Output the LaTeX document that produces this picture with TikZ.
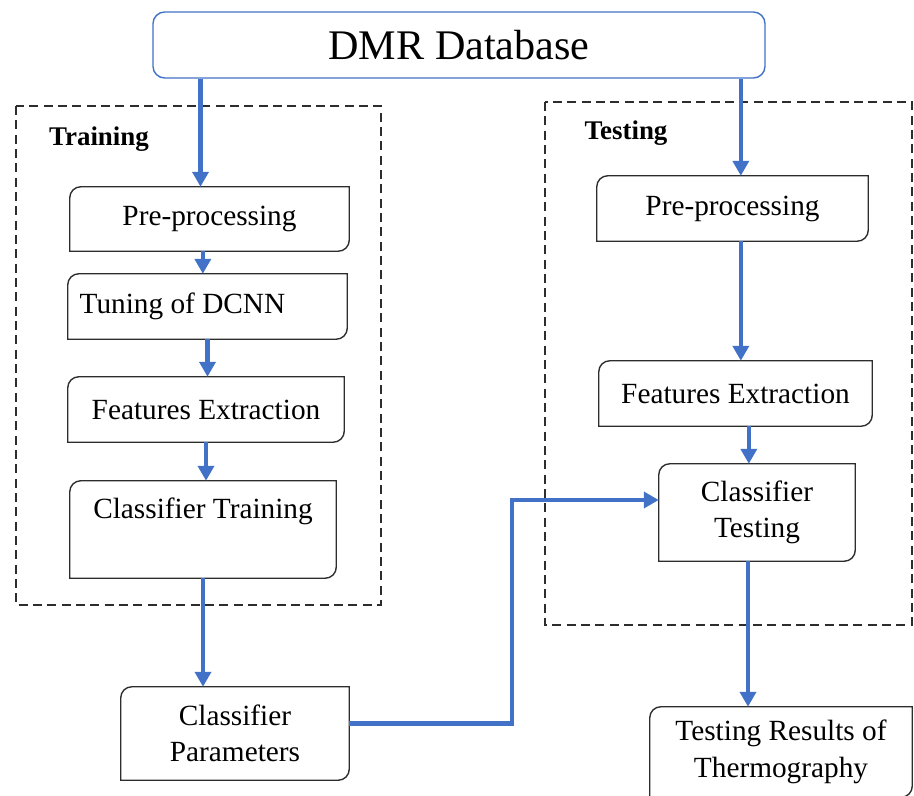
\documentclass[tikz,border=0pt]{standalone}
\usepackage{fontspec}
\setmainfont{Liberation Serif}
\usetikzlibrary{arrows.meta}
\definecolor{flowblue}{RGB}{66,114,200}
\definecolor{framegray}{RGB}{45,45,45}

\tikzset{
  stepbox/.style={draw=none, align=center, inner sep=0pt, font=\fontsize{25}{31}\selectfont},
  flow/.style={draw=flowblue, line width=3.8pt, -{Triangle[length=0.45cm,width=0.48cm]}},
  phase/.style={draw=framegray, line width=1.2pt, dash pattern=on 0.27cm off 0.16cm},
  outline/.style={draw=framegray, line width=1.2pt},
  phaselabel/.style={font=\fontsize{23}{28}\selectfont\bfseries}
}
% box with round top-left and bottom-right corners
\newcommand{\cutbox}[1]{%
  \draw[outline] (#1.south west) -- ([yshift=-0.33cm]#1.north west)
    arc[start angle=180,end angle=90,radius=0.33cm] -- (#1.north east)
    -- ([yshift=0.33cm]#1.south east) arc[start angle=0,end angle=-90,radius=0.33cm] -- cycle;}

\begin{document}
\begin{tikzpicture}[x=0.03cm,y=-0.03cm]
\useasboundingbox (0,0) rectangle (914,796);
\clip (0,0) rectangle (914,796);

% phases
\draw[phase] (16,106) rectangle (381,605);
\draw[phase] (545,102) rectangle (912,625);
\node[phaselabel] (train) at (99,139) {Training};
\node[phaselabel] (test) at (626,133) {Testing};

% database
\node[draw=flowblue, line width=1.2pt, rounded corners=0.35cm, minimum width=18.36cm, minimum height=1.98cm,
  font=\fontsize{36}{40}\selectfont] (db) at (459,45) {DMR Database\hspace{0.5cm}};

% training side
\node[stepbox, minimum width=8.37cm, minimum height=1.92cm] (preL) at (209.5,219) {Pre-processing};
\node[stepbox, minimum width=8.37cm, minimum height=1.95cm] (tune) at (207.5,306.5) {Tuning of DCNN\hspace{1.5cm}};
\node[stepbox, minimum width=8.28cm, minimum height=1.95cm] (featL) at (206,409.5) {Features Extraction};
\node[stepbox, minimum width=7.98cm, minimum height=2.91cm] (clsTr) at (203,529.5) {Classifier Training\\[0.2cm]};
\node[stepbox, minimum width=6.84cm, minimum height=2.79cm] (params) at (235,733.5) {Classifier\\Parameters};

% testing side
\node[stepbox, minimum width=8.13cm, minimum height=1.95cm] (preR) at (732.5,208.5) {Pre-processing};
\node[stepbox, minimum width=8.19cm, minimum height=1.95cm] (featR) at (735.5,393.5) {Features Extraction};
\node[stepbox, minimum width=5.88cm, minimum height=2.91cm] (clsTe) at (757,512.5) {Classifier\\Testing};
\node[stepbox, minimum width=7.86cm, minimum height=2.70cm] (result) at (781,752) {Testing Results of\\Thermography};

\foreach \b in {preL,tune,featL,clsTr,params,preR,featR,clsTe,result}
  \cutbox{\b};

% flow
\coordinate (bend) at (512,500);
\draw[flow] ([xshift=-0.27cm]db.south -| preL.north) -- ([xshift=-0.27cm]preL.north);
\draw[flow] ([xshift=0.25cm]db.south -| preR.north) -- ([xshift=0.25cm]preR.north);
\draw[flow] ([xshift=-0.2cm]preL.south) -- ([xshift=-0.2cm]preL.south |- tune.north);
\draw[flow] (tune.south) -- (tune.south |- featL.north);
\draw[flow] (featL.south) -- (featL.south |- clsTr.north);
\draw[flow] (clsTr.south) -- (clsTr.south |- params.north);
\draw[flow] ([xshift=0.25cm]preR.south) -- ([xshift=0.25cm]preR.south |- featR.north);
\draw[flow] ([xshift=0.4cm]featR.south) -- ([xshift=0.4cm]featR.south |- clsTe.north);
\draw[flow] ([xshift=-0.27cm]clsTe.south) -- ([xshift=-0.27cm]clsTe.south |- result.north);
\draw[flow] ([yshift=0.3cm]params.east) -| (bend) -- (bend -| clsTe.west);
\end{tikzpicture}
\end{document}
